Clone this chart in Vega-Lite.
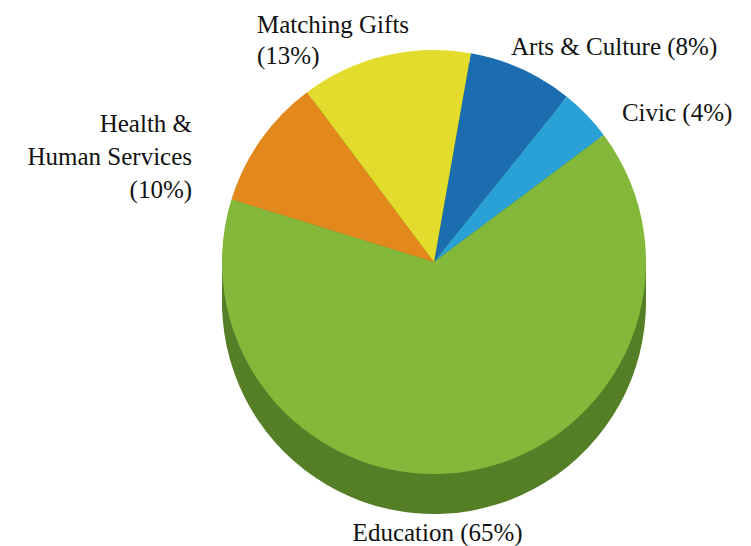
{
  "$schema": "https://vega.github.io/schema/vega-lite/v6.json",
  "width": 634,
  "height": 524,
  "autosize": "none",
  "padding": {"left": 117, "top": 0, "right": 0, "bottom": 22},
  "background": "white",
  "config": {"view": {"stroke": null}},
  "data": {"values": [
    {"category": "Arts & Culture", "value": 8, "label": "Arts & Culture (8%)"},
    {"category": "Civic", "value": 4, "label": "Civic (4%)"},
    {"category": "Education", "value": 65, "label": "Education (65%)"},
    {"category": "Health & Human Services", "value": 10, "label": "Health &\nHuman Services\n(10%)"},
    {"category": "Matching Gifts", "value": 13, "label": "Matching Gifts\n(13%)"}
  ]},
  "encoding": {
    "theta": {"field": "value", "type": "quantitative", "stack": true, "scale": {"range": [0.1745, 6.4577]}},
    "order": {"field": "category", "type": "ordinal"}
  },
  "layer": [
    {"mark": {"type": "arc", "radius": 212, "yOffset": 10, "color": "#557f27"}},
    {"mark": {"type": "arc", "radius": 212, "yOffset": 20, "color": "#557f27"}},
    {"mark": {"type": "arc", "radius": 212, "yOffset": 30, "color": "#557f27"}},
    {"mark": {"type": "arc", "radius": 212, "yOffset": 40, "color": "#557f27"}},
    {
      "mark": {"type": "arc", "radius": 212},
      "encoding": {
        "color": {
          "field": "category", "type": "nominal", "legend": null,
          "scale": {
            "domain": ["Arts & Culture", "Civic", "Education", "Health & Human Services", "Matching Gifts"],
            "range": ["#1c6cb0", "#29a0d6", "#83b83a", "#e3881d", "#e4dc2c"]
          }
        }
      }
    },
    {
      "mark": {"type": "text", "radius": 230, "font": "Liberation Serif", "fontSize": 25, "color": "#111111", "align": "left", "baseline": "alphabetic", "dx": -18, "dy": 2.5},
      "encoding": {"text": {"condition": {"test": "datum.category === 'Arts & Culture'", "field": "label"}, "value": ""}}
    },
    {
      "mark": {"type": "text", "radius": 230, "font": "Liberation Serif", "fontSize": 25, "color": "#111111", "align": "left", "baseline": "alphabetic", "dx": 22.5, "dy": 19},
      "encoding": {"text": {"condition": {"test": "datum.category === 'Civic'", "field": "label"}, "value": ""}}
    },
    {
      "mark": {"type": "text", "radius": 230, "font": "Liberation Serif", "fontSize": 25, "color": "#111111", "align": "center", "baseline": "alphabetic", "dx": -35.5, "dy": 52.4},
      "encoding": {"text": {"condition": {"test": "datum.category === 'Education'", "field": "label"}, "value": ""}}
    },
    {
      "mark": {"type": "text", "radius": 230, "font": "Liberation Serif", "fontSize": 25, "color": "#111111", "align": "right", "baseline": "alphabetic", "lineBreak": "\n", "lineHeight": 33, "dx": -54, "dy": 2.5},
      "encoding": {"text": {"condition": {"test": "datum.category === 'Health & Human Services'", "field": "label"}, "value": ""}}
    },
    {
      "mark": {"type": "text", "radius": 230, "font": "Liberation Serif", "fontSize": 25, "color": "#111111", "align": "left", "baseline": "alphabetic", "lineBreak": "\n", "lineHeight": 31, "dx": -123.7, "dy": -5},
      "encoding": {"text": {"condition": {"test": "datum.category === 'Matching Gifts'", "field": "label"}, "value": ""}}
    }
  ]
}
